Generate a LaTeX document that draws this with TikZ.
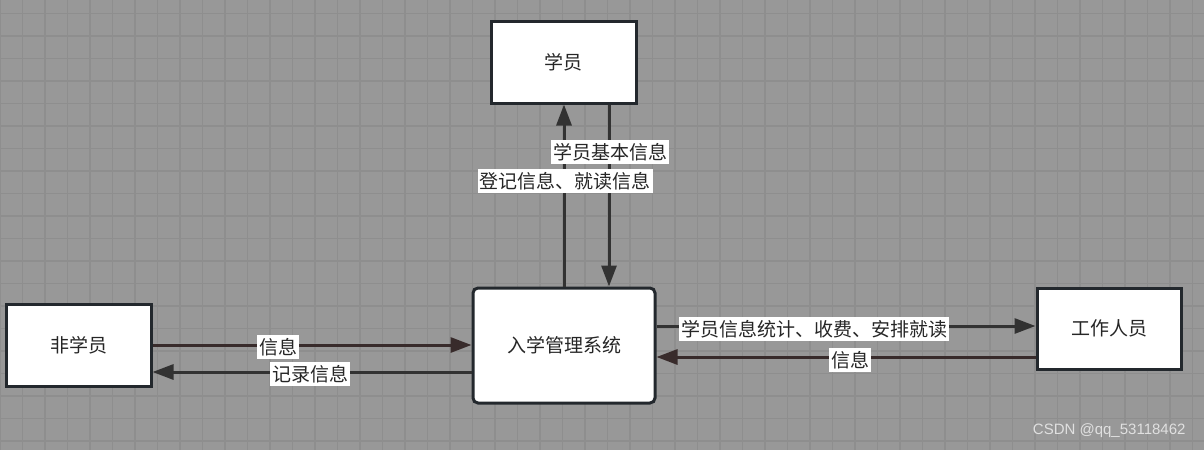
\documentclass[tikz,border=0pt]{standalone}
\usepackage{fontspec}
\setmainfont{Noto Sans CJK SC}
\newfontfamily\wmfont{Liberation Sans}
\usetikzlibrary{arrows.meta}
\definecolor{bgc}{RGB}{152,152,152}
\definecolor{gridc}{RGB}{142,142,142}
\definecolor{boxc}{RGB}{35,40,45}
\definecolor{linec}{RGB}{50,50,50}
\definecolor{linerc}{RGB}{56,43,43}
\tikzset{
  box/.style={draw=boxc, line width=3pt, fill=white, minimum width=#1, text=black!85, font=\fontsize{19}{19}\selectfont, inner sep=0pt},
  arr/.style={draw=linec, line width=3pt, -{Triangle[length=21pt,width=15pt]}},
  lab/.style={fill=white, inner xsep=2pt, inner ysep=3.5pt, text=black!85, font=\fontsize{19}{20}\selectfont},
}
\begin{document}
\begin{tikzpicture}[x=1pt,y=-1pt]
\fill[bgc] (0,0) rectangle (1204,450);
\useasboundingbox (0,0) rectangle (1204,450);
\foreach \i in {0,...,54} \draw[gridc, line width=1.6pt] (\i*22.5,0) -- (\i*22.5,450);
\foreach \j in {0,...,19} \draw[gridc, line width=1.6pt] (0,13.5+\j*22.5) -- (1204,13.5+\j*22.5);
% boxes
\node[box=145pt, minimum height=82pt] (stu) at (563.5,62) {学员};
\node[box=145pt, minimum height=82pt] (non) at (78.5,345.5) {非学员};
\node[box=182pt, minimum height=115pt, rounded corners=5pt] (sys) at (564,345.5) {入学管理系统};
\node[box=144pt, minimum height=81pt] (wrk) at (1109,328.5) {工作人员};
% connectors
\draw[arr] (sys.north -| 564,0) -- (stu.south -| 564,0);
\draw[arr] (stu.south -| 609,0) -- (sys.north -| 609,0);
\draw[arr, draw=linerc] (non.east |- 0,345) -- (sys.west |- 0,345);
\draw[arr] (sys.west |- 0,372) -- (non.east |- 0,372);
\draw[arr] (sys.east |- 0,326) -- (wrk.west |- 0,326);
\draw[arr, draw=linerc] (wrk.west |- 0,357) -- (sys.east |- 0,357);
% labels
\node[lab] (l1) at (610,152) {学员基本信息};
\node[lab] (l2) at (565,181) {登记信息、就读信息};
\node[lab] (l3) at (278,347) {信息};
\node[lab] (l4) at (310,374) {记录信息};
\node[lab] (l5) at (814,329) {学员信息统计、收费、安排就读};
\node[lab] (l6) at (850,360) {信息};
% watermark
\node[text=white!88!black, font=\wmfont\fontsize{15}{15}\selectfont, anchor=east] (wm) at (1189,431) {CSDN @qq\_53118462};
\end{tikzpicture}
\end{document}
